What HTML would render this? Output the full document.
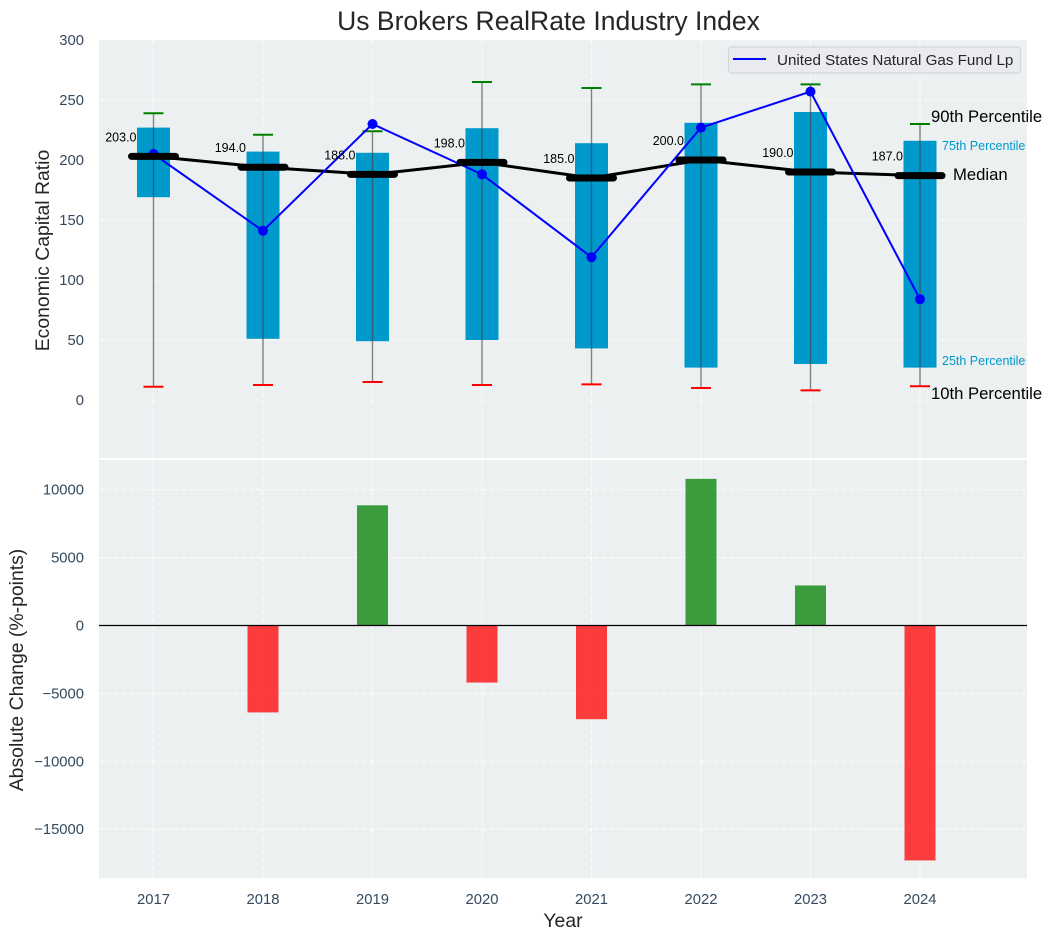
<!DOCTYPE html>
<html>
<head>
<meta charset="utf-8">
<title>Us Brokers RealRate Industry Index</title>
<style>
html,body{margin:0;padding:0;background:#fff;width:1051px;height:940px;overflow:hidden}
svg{display:block}
text{font-family:"Liberation Sans",Arial,sans-serif}
.tick{font-size:14.8px;fill:#34495e}
.axis{font-size:19.4px;fill:#262626}
.ann{font-size:16.67px;fill:#000}
.ann-blue{font-size:12.5px;fill:#0099cc}
.val{font-size:12.5px;fill:#000}
</style>
</head>
<body>
<svg id="chart" xmlns="http://www.w3.org/2000/svg" width="1051" height="940" viewBox="0 0 1051 940">
  <text x="548.5" y="30" text-anchor="middle" style="font-size:26.5px;fill:#262626">Us Brokers RealRate Industry Index</text>
  <rect x="99" y="40" width="928" height="418" fill="#ecf0f1"></rect>
  <rect x="99" y="460" width="928" height="418" fill="#ecf0f1"></rect>
  <g id="grid"></g>
  <g id="bars"></g>
  <g id="boxes"></g>
  <g id="medianLine"></g>
  <g id="priceLine"></g>
  <g id="medianMarks"></g>
  <g id="ticks"></g>
  <line x1="99" x2="1027" y1="625.5" y2="625.5" stroke="#000" stroke-width="1.3"></line>
  <text transform="translate(49,250.5) rotate(-90)" text-anchor="middle" class="axis">Economic Capital Ratio</text>
  <text transform="translate(23,670) rotate(-90)" text-anchor="middle" class="axis">Absolute Change (%-points)</text>
  <text x="563" y="927" text-anchor="middle" class="axis">Year</text>
  <g>
    <rect x="728.5" y="47" width="292" height="26" rx="3" fill="#e9ebf0" stroke="#d3d5da" stroke-width="1.2"></rect>
    <line x1="733" x2="766" y1="59" y2="59" stroke="#0000ff" stroke-width="2"></line>
    <text x="777" y="65" style="font-size:15.2px;fill:#262626">United States Natural Gas Fund Lp</text>
  </g>
  <text x="931" y="122" class="ann">90th Percentile</text>
  <text x="942" y="150" class="ann-blue">75th Percentile</text>
  <text x="953" y="180" class="ann">Median</text>
  <text x="942" y="365" class="ann-blue">25th Percentile</text>
  <text x="931" y="399" class="ann">10th Percentile</text>
</svg>
<script>
const years = [2017, 2018, 2019, 2020, 2021, 2022, 2023, 2024];
const p10 = [11, 12.5, 15, 12.5, 13, 10, 8, 11.5];
const p25 = [169, 51, 49, 50, 43, 27, 30, 27];
const p75 = [227, 207, 206, 226.5, 214, 231, 240, 216];
const p90 = [239, 221, 224, 265, 260, 263, 263, 230];
const medians = [203, 194, 188, 198, 185, 200, 190, 187];
const fundValues = [205, 141, 230, 188, 119, 227, 257, 84];
const changes = [0, -6400, 8850, -4200, -6900, 10800, 2950, -17300];
const topTicks = [0, 50, 100, 150, 200, 250, 300];
const bottomTicks = [-15000, -10000, -5000, 0, 5000, 10000];

const NS = 'http://www.w3.org/2000/svg';
const xScale = function (year) { return 153.5 + (year - 2017) * 109.5; };
const yTop = function (v) { return 400 - v * 1.2; };
const yBottom = function (v) { return 625.5 - v * 0.01358; };

function el(tag, parentId, attrs, txt) {
  const node = document.createElementNS(NS, tag);
  for (const k in attrs) node.setAttribute(k, attrs[k]);
  if (txt !== undefined) node.textContent = txt;
  document.getElementById(parentId).appendChild(node);
  return node;
}
const gridStyle = { stroke: '#ffffff', 'stroke-width': 1.1, 'stroke-dasharray': '5 2.5', opacity: 0.8 };

years.forEach(function (year) {
  const x = xScale(year);
  const a = el('line', 'grid', Object.assign({ x1: x, x2: x, y1: 40, y2: 458 }, gridStyle));
  
  
  const b = el('line', 'grid', Object.assign({ x1: x, x2: x, y1: 460, y2: 878 }, gridStyle));
  
  
  const t = el('text', 'ticks', { x: x, y: 904, 'text-anchor': 'middle', class: 'tick' }, String(year));
  
  
});

topTicks.forEach(function (v) {
  const y = yTop(v);
  const g = el('line', 'grid', Object.assign({ x1: 99, x2: 1027, y1: y, y2: y }, gridStyle));
  
  
  const t = el('text', 'ticks', { x: 84, y: y + 5, 'text-anchor': 'end', class: 'tick' }, String(v));
  
  
});

bottomTicks.forEach(function (v) {
  const y = yBottom(v);
  const g = el('line', 'grid', Object.assign({ x1: 99, x2: 1027, y1: y, y2: y }, gridStyle));
  
  
  const label = v < 0 ? '\u2212' + Math.abs(v) : String(v);
  const t = el('text', 'ticks', { x: 84, y: y + 5, 'text-anchor': 'end', class: 'tick' }, label);
  
  
});

changes.forEach(function (v, i) {
  if (v === 0) return;
  const x = xScale(years[i]);
  const y0 = yBottom(0);
  const y1 = yBottom(v);
  const bar = el('rect', 'bars', {
    x: x - 15.5, width: 31, y: Math.min(y0, y1), height: Math.abs(y1 - y0),
    fill: v > 0 ? '#008000' : '#ff0000', 'fill-opacity': 0.75
  });
  
  
});

years.forEach(function (year, i) {
  const x = xScale(year);
  const box = el('rect', 'boxes', {
    x: x - 16.5, width: 33, y: yTop(p75[i]), height: yTop(p25[i]) - yTop(p75[i]), fill: '#0099cc'
  });
  
  
  const whisker = el('line', 'boxes', {
    x1: x, x2: x, y1: yTop(p90[i]), y2: yTop(p10[i]), stroke: '#444444', 'stroke-opacity': 0.65, 'stroke-width': 1.4
  });
  
  
  const capHigh = el('line', 'boxes', {
    x1: x - 10, x2: x + 10, y1: yTop(p90[i]), y2: yTop(p90[i]), stroke: '#008000', 'stroke-width': 2
  });
  
  
  const capLow = el('line', 'boxes', {
    x1: x - 10, x2: x + 10, y1: yTop(p10[i]), y2: yTop(p10[i]), stroke: '#ff0000', 'stroke-width': 2
  });
  
  
});

const medianPath = el('polyline', 'medianLine', {
  points: years.map(function (year, i) { return xScale(year) + ',' + yTop(medians[i]); }).join(' '),
  fill: 'none', stroke: '#000000', 'stroke-width': 3
});



const fundPath = el('polyline', 'priceLine', {
  points: years.map(function (year, i) { return xScale(year) + ',' + yTop(fundValues[i]); }).join(' '),
  fill: 'none', stroke: '#0000ff', 'stroke-width': 2
});



fundValues.forEach(function (v, i) {
  const dot = el('circle', 'priceLine', { cx: xScale(years[i]), cy: yTop(v), r: 5, fill: '#0000ff' });
  
  
});

medians.forEach(function (v, i) {
  const x = xScale(years[i]);
  const y = yTop(v);
  const mark = el('line', 'medianMarks', {
    x1: x - 22, x2: x + 22, y1: y, y2: y, stroke: '#000000', 'stroke-width': 7, 'stroke-linecap': 'round'
  });
  
  
  const label = el('text', 'medianMarks', { x: x - 17, y: y - 15, 'text-anchor': 'end', class: 'val' }, v.toFixed(1));
  
  
});
</script>
</body>
</html>
